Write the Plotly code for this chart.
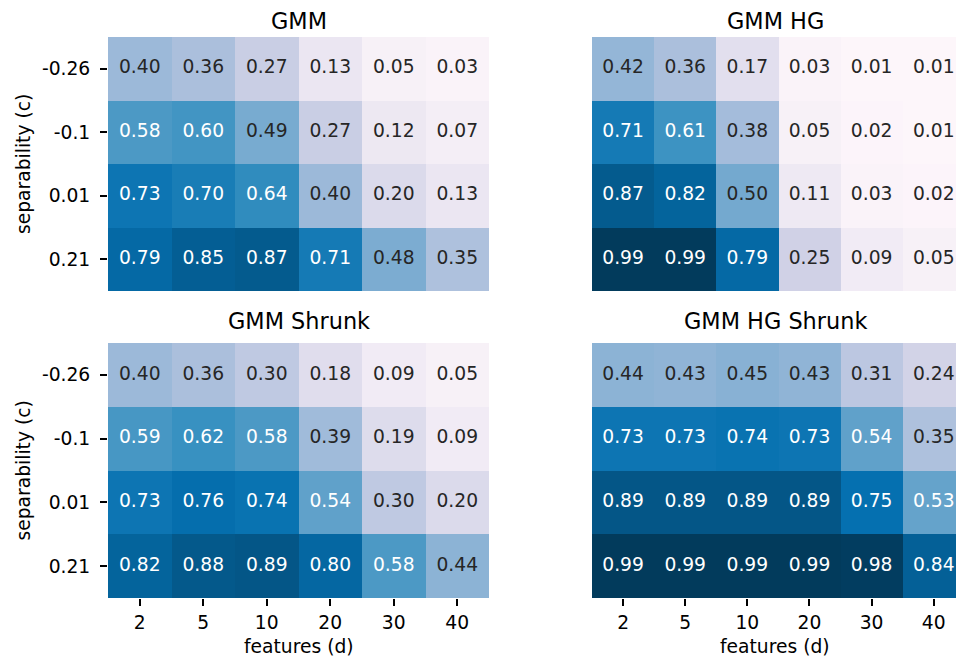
import plotly.graph_objects as go

features = ["2", "5", "10", "20", "30", "40"]
separability = ["-0.26", "-0.1", "0.01", "0.21"]

titles = ["GMM", "GMM HG", "GMM Shrunk", "GMM HG Shrunk"]

gmm = [
    [0.40, 0.36, 0.27, 0.13, 0.05, 0.03],
    [0.58, 0.60, 0.49, 0.27, 0.12, 0.07],
    [0.73, 0.70, 0.64, 0.40, 0.20, 0.13],
    [0.79, 0.85, 0.87, 0.71, 0.48, 0.35],
]
gmm_hg = [
    [0.42, 0.36, 0.17, 0.03, 0.01, 0.01],
    [0.71, 0.61, 0.38, 0.05, 0.02, 0.01],
    [0.87, 0.82, 0.50, 0.11, 0.03, 0.02],
    [0.99, 0.99, 0.79, 0.25, 0.09, 0.05],
]
gmm_shrunk = [
    [0.40, 0.36, 0.30, 0.18, 0.09, 0.05],
    [0.59, 0.62, 0.58, 0.39, 0.19, 0.09],
    [0.73, 0.76, 0.74, 0.54, 0.30, 0.20],
    [0.82, 0.88, 0.89, 0.80, 0.58, 0.44],
]
gmm_hg_shrunk = [
    [0.44, 0.43, 0.45, 0.43, 0.31, 0.24],
    [0.73, 0.73, 0.74, 0.73, 0.54, 0.35],
    [0.89, 0.89, 0.89, 0.89, 0.75, 0.53],
    [0.99, 0.99, 0.99, 0.99, 0.98, 0.84],
]
panels = [gmm, gmm_hg, gmm_shrunk, gmm_hg_shrunk]

PUBU = ["#fff7fb", "#ece7f2", "#d0d1e6", "#a6bddb", "#74a9cf",
        "#3690c0", "#0570b0", "#045a8d", "#023858"]
colorscale = [[i / 8, c] for i, c in enumerate(PUBU)]

# page body has an 8px margin; visible area is x 8..956, y 8..658
OFF = 8
W, H = 964 - OFF, 666 - 2 * OFF
FONT = "DejaVu Sans"
FS = 18.7

# pixel geometry in window coordinates
left_x = (108, 489)
right_x = (592, 956)
top_y = (37, 291)
bot_y = (343, 598)
visible_cells = [6.0, 5.858, 6.0, 5.858]


def px2x(p):
    return (p - OFF) / W


def px2y(p):
    return 1 - (p - OFF) / H


def xd(a, b):
    return [px2x(a), min(1.0, px2x(b))]


def yd(a, b):
    return [px2y(b), px2y(a)]


geoms = [
    (left_x, top_y), (right_x, top_y),
    (left_x, bot_y), (right_x, bot_y),
]

fig = go.Figure()
layout = {}
for i, (z, (gx, gy)) in enumerate(zip(panels, geoms)):
    n = "" if i == 0 else str(i + 1)
    xa, ya = "x" + n, "y" + n
    fig.add_trace(go.Heatmap(
        z=z, x=features, y=separability, xaxis=xa, yaxis=ya,
        colorscale=colorscale, zmin=0, zmax=1, showscale=False,
        hoverinfo="skip",
    ))
    xs, ys, txt, cols = [], [], [], []
    for r, row in enumerate(z):
        for c, v in enumerate(row):
            xs.append(features[c])
            ys.append(separability[r])
            txt.append(f"{v:.2f}")
            cols.append("white" if v > 0.51 else "#262626")
    fig.add_trace(go.Scatter(
        x=xs, y=ys, text=txt, mode="text", xaxis=xa, yaxis=ya,
        textfont=dict(family=FONT, size=FS, color=cols),
        textposition="middle center", hoverinfo="skip", showlegend=False,
        cliponaxis=False,
    ))
    is_left = i % 2 == 0
    is_bottom = i >= 2
    layout["xaxis" + n] = dict(
        domain=xd(*gx), anchor=ya, type="category",
        range=[-0.5, -0.5 + visible_cells[i]],
        showgrid=False, zeroline=False, showline=False,
        ticks="outside" if is_bottom else "", ticklen=7, tickwidth=1.5,
        tickcolor="black", showticklabels=is_bottom,
        tickfont=dict(family=FONT, size=FS, color="black"),
        ticklabelstandoff=1,
    )
    layout["yaxis" + n] = dict(
        domain=yd(*gy), anchor=xa, type="category",
        range=[3.5, -0.5],
        showgrid=False, zeroline=False, showline=False,
        ticks="outside" if is_left else "", ticklen=7, tickwidth=1.5,
        tickcolor="black", showticklabels=is_left,
        tickfont=dict(family=FONT, size=FS, color="black"),
        ticklabelstandoff=6,
    )

annotations = []
title_pos = [(298.5, 21), (775, 21), (298.5, 321), (775, 321)]
for t, (px, py) in zip(titles, title_pos):
    annotations.append(dict(
        text=t, x=px2x(px), y=px2y(py), xref="paper", yref="paper",
        xanchor="center", yanchor="middle", showarrow=False,
        font=dict(family=FONT, size=22.4, color="black"),
    ))
for py in (164, 470.5):
    annotations.append(dict(
        text="separability (c)", x=px2x(23), y=px2y(py), xref="paper",
        yref="paper", xanchor="center", yanchor="middle", showarrow=False,
        textangle=-90, font=dict(family=FONT, size=FS, color="black"),
    ))
for px in (298.5, 775):
    annotations.append(dict(
        text="features (d)", x=px2x(px), y=px2y(646), xref="paper",
        yref="paper", xanchor="center", yanchor="middle", showarrow=False,
        font=dict(family=FONT, size=FS, color="black"),
    ))

fig.update_layout(
    width=W, height=H, margin=dict(l=0, r=0, t=0, b=0),
    paper_bgcolor="white", plot_bgcolor="white",
    font=dict(family=FONT, size=FS, color="black"),
    showlegend=False, annotations=annotations, **layout,
)

fig.write_html("out.html")
